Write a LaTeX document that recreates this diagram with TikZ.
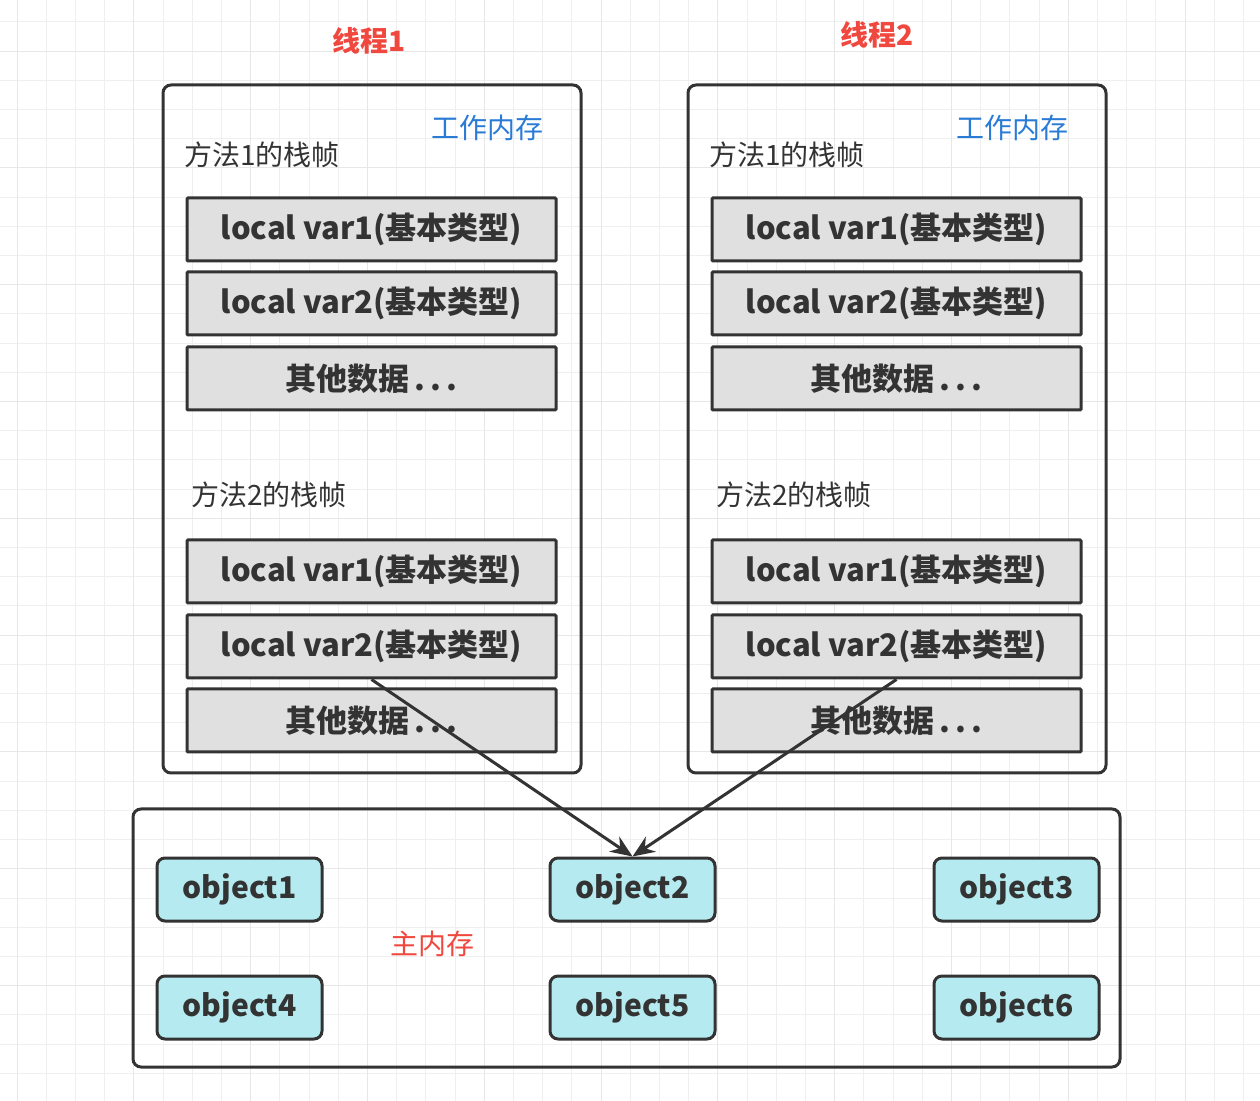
\documentclass[tikz,border=0pt]{standalone}
\usepackage{fontspec}
\setmainfont{Noto Sans CJK SC}
\usetikzlibrary{arrows.meta}
\definecolor{linec}{HTML}{333333}
\definecolor{gridc}{HTML}{EFEFEF}
\definecolor{gridmaj}{HTML}{E7E7E7}
\definecolor{slotc}{HTML}{E0E0E0}
\definecolor{objc}{HTML}{B5EBF0}
\definecolor{redc}{HTML}{F0483E}
\definecolor{bluec}{HTML}{2A7BD5}
\begin{document}
\begin{tikzpicture}[x=0.5pt,y=-0.5pt,
  gridline/.style={draw=gridc,line width=0.5pt},
  gridmajor/.style={draw=gridmaj,line width=0.5pt},
  frame/.style={draw=linec,line width=1.5pt,rounded corners=4pt,minimum width=209pt,minimum height=344pt},
  slot/.style={draw=linec,fill=slotc,line width=1.5pt,rounded corners=0.5pt,minimum width=184.5pt,minimum height=31.5pt,text=linec,font=\fontsize{15.5}{18}\selectfont\bfseries},
  obj/.style={draw=linec,fill=objc,line width=1.5pt,rounded corners=4pt,minimum width=82.5pt,minimum height=31.5pt,text=linec,font=\fontsize{15}{18}\selectfont\bfseries},
  title/.style={text=redc,font=\fontsize{14}{17}\selectfont\bfseries},
  memlabel/.style={text=bluec,font=\fontsize{14}{17}\selectfont},
  framelabel/.style={anchor=west,text=linec,font=\fontsize{14}{17}\selectfont},
  arr/.style={draw=linec,line width=1.5pt,-{Stealth[length=11pt,width=9pt]}}]
\fill[white] (0,0) rectangle (1260,1101);
\useasboundingbox (0,0) rectangle (1260,1101);
% background grid
\foreach \i in {0,...,42} \draw[gridline] ({17+29.2*\i},0) -- ({17+29.2*\i},1101);
\foreach \i in {0,...,36} \draw[gridline] (0,{22+29.2*\i}) -- (1260,{22+29.2*\i});
\foreach \i in {0,4,...,40} \draw[gridmajor] ({17+29.2*\i},0) -- ({17+29.2*\i},1101);
\foreach \i in {1,5,...,33} \draw[gridmajor] (0,{22+29.2*\i}) -- (1260,{22+29.2*\i});

% two threads
\foreach \t/\cx/\tx/\ty in {1/371.5/369/41, 2/896.5/877/35} {
  \node[title] (th\t) at (\tx,\ty) {线程\t};
  \node[frame] (ws\t) at (\cx+0.5,429) {};
  \node[memlabel] (wm\t) at (\cx+115.5,128) {工作内存};
  \node[framelabel] (fa\t) at (\cx-194.5,155) {方法1的栈帧};
  \node[slot] (t\t a1) at (\cx,229.5) {local var1(基本类型)};
  \node[slot] (t\t a2) at (\cx,303.5) {local var2(基本类型)};
  \node[slot] (t\t a3) at (\cx,378.5) {其他数据\,.\,.\,.};
  \node[framelabel] (fb\t) at (\cx-187.5,495) {方法2的栈帧};
  \node[slot] (t\t b1) at (\cx,571.5) {local var1(基本类型)};
  \node[slot] (t\t b2) at (\cx,646.5) {local var2(基本类型)};
  \node[slot] (t\t b3) at (\cx,720.5) {其他数据\,.\,.\,.};
}

% main memory
\node[draw=linec,line width=1.5pt,rounded corners=4pt,minimum width=493.5pt,minimum height=129pt] (main) at (626.5,938) {};
\node[text=redc,font=\fontsize{14}{17}\selectfont] (mainlabel) at (432,944) {主内存};
\node[obj] (o1) at (239.5,889.5) {object1};
\node[obj] (o2) at (632.5,889.5) {object2};
\node[obj] (o3) at (1016.5,889.5) {object3};
\node[obj] (o4) at (239.5,1007.5) {object4};
\node[obj] (o5) at (632.5,1007.5) {object5};
\node[obj] (o6) at (1016.5,1007.5) {object6};

\draw[arr] (t1b2.south) -- (o2.north);
\draw[arr] (t2b2.south) -- (o2.north);
\end{tikzpicture}
\end{document}
